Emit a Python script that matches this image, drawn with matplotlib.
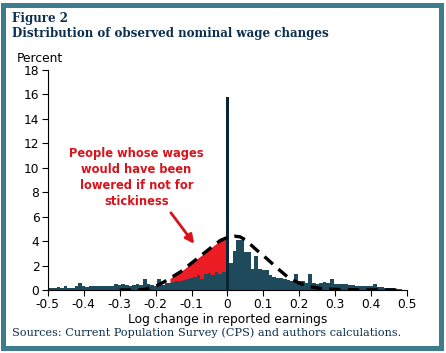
import matplotlib.pyplot as plt
from matplotlib.patches import Rectangle
import numpy as np

plt.rcParams['axes.unicode_minus'] = False
plt.rcParams['font.family'] = 'DejaVu Sans'

# histograma: centros de bins cada 0.01 desde -0.50 hasta 0.50
bins = np.round(np.arange(-50, 51) * 0.01, 2)
alturas = [
    0.15, 0.2, 0.15, 0.25, 0.2, 0.3, 0.2, 0.2, 0.3, 0.55,      # -0.50 .. -0.41
    0.3, 0.25, 0.3, 0.3, 0.3, 0.35, 0.3, 0.35, 0.35, 0.45,     # -0.40 .. -0.31
    0.4, 0.5, 0.4, 0.35, 0.4, 0.45, 0.4, 0.9, 0.45, 0.4,       # -0.30 .. -0.21
    0.35, 0.9, 0.4, 0.55, 0.6, 0.65, 0.7, 0.75, 0.85, 0.9,     # -0.20 .. -0.11
    1.0, 1.1, 1.2, 0.9, 1.3, 1.4, 1.2, 1.45, 1.3, 1.5,         # -0.10 .. -0.01
    15.8,                                                      # 0
    2.2, 3.2, 4.1, 4.1, 3.1, 3.1, 1.7, 2.8, 1.7, 1.6,          # 0.01 .. 0.10
    1.6, 1.2, 1.1, 1.0, 0.95, 0.9, 0.85, 0.75, 1.3, 0.7,       # 0.11 .. 0.20
    0.75, 0.6, 1.3, 0.55, 0.5, 0.6, 0.65, 0.55, 0.9, 0.45,     # 0.21 .. 0.30
    0.45, 0.5, 0.5, 0.4, 0.4, 0.35, 0.35, 0.3, 0.3, 0.3,       # 0.31 .. 0.40
    0.45, 0.25, 0.25, 0.2, 0.2, 0.15, 0.1, 0.05, 0.03, 0.0,    # 0.41 .. 0.50
]

# curva contrafactual (línea punteada)
curva_x = [-0.30, -0.26, -0.23, -0.20, -0.18, -0.16, -0.13, -0.10, -0.07, -0.04,
           -0.02, 0.00, 0.02, 0.035, 0.05, 0.08, 0.11, 0.14, 0.17, 0.20,
           0.23, 0.26, 0.30, 0.35, 0.40, 0.45, 0.48]
curva_y = [0.0, 0.0, 0.05, 0.3, 0.6, 0.95, 1.5, 2.2, 2.9, 3.6,
           4.05, 4.3, 4.4, 4.35, 4.1, 3.3, 2.55, 1.75, 1.0, 0.55,
           0.27, 0.12, 0.05, 0.02, 0.01, 0.0, 0.0]

xticks = [-0.5, -0.4, -0.3, -0.2, -0.1, 0, 0.1, 0.2, 0.3, 0.4, 0.5]
xtick_labels = ['-0.5', '-0.4', '-0.3', '-0.2', '-0.1', '0', '0.1', '0.2', '0.3', '0.4', '0.5']
yticks = [0, 2, 4, 6, 8, 10, 12, 14, 16, 18]

navy = '#0c2f4f'
teal = '#3e7b8c'

fig = plt.figure(figsize=(4.46, 3.53), dpi=100)
ax = fig.add_axes([0.107, 0.1785, 0.806, 0.6232])

# relleno rojo bajo la curva (lado izquierdo)
cx = np.array(curva_x)
cy = np.array(curva_y)
m = (cx >= -0.17) & (cx <= 0)
ax.fill_between(cx[m], 0, cy[m], color='#ec1c24', linewidth=0, zorder=1)

colores = ['#0a2438' if b == 0 else '#1f4a5c' for b in bins]
ax.bar(bins, alturas, width=0.01, color=colores, linewidth=0, zorder=2)

ax.plot(curva_x, curva_y, color='black', lw=2.4, ls=(0, (3.4, 2.2)), zorder=3)

ax.annotate('', xy=(-0.088, 3.6), xytext=(-0.162, 6.5),
            arrowprops=dict(arrowstyle='-|>', color='#d9121b', lw=2.0,
                            mutation_scale=13), zorder=4)
ax.text(-0.253, 9.2, 'People whose wages\nwould have been\nlowered if not for\nstickiness',
        color='#d9121b', fontsize=8.3, fontweight='bold', ha='center', va='center',
        linespacing=1.3)

ax.set_xlim(-0.5, 0.5)
ax.set_ylim(0, 18)
ax.set_xticks(xticks)
ax.set_xticklabels(xtick_labels)
ax.set_yticks(yticks)
ax.tick_params(labelsize=8.8, length=4, width=0.8, direction='out', pad=2)
for s in ['top', 'right']:
    ax.spines[s].set_visible(False)
ax.set_xlabel('Log change in reported earnings', fontsize=8.8, labelpad=1)

fig.text(17 / 446, 1 - 62 / 353, 'Percent', fontsize=8.8, ha='left', va='baseline')

fig.text(12 / 446, 1 - 22 / 353, 'Figure 2', fontsize=8.6, fontweight='bold',
         family='DejaVu Serif', color=navy, va='baseline')
fig.text(12 / 446, 1 - 37 / 353, 'Distribution of observed nominal wage changes', fontsize=8.6,
         fontweight='bold', family='DejaVu Serif', color=navy, va='baseline')
fig.text(12 / 446, 1 - 336 / 353, 'Sources: Current Population Survey (CPS) and authors calculations.',
         fontsize=8.1, family='DejaVu Serif', color=navy, va='baseline')

fig.add_artist(Rectangle((3 / 446, 5 / 353), 437.5 / 446, 343.5 / 353, transform=fig.transFigure,
                         fill=False, edgecolor=teal, lw=3.6))

plt.savefig('out.png', dpi=100)
